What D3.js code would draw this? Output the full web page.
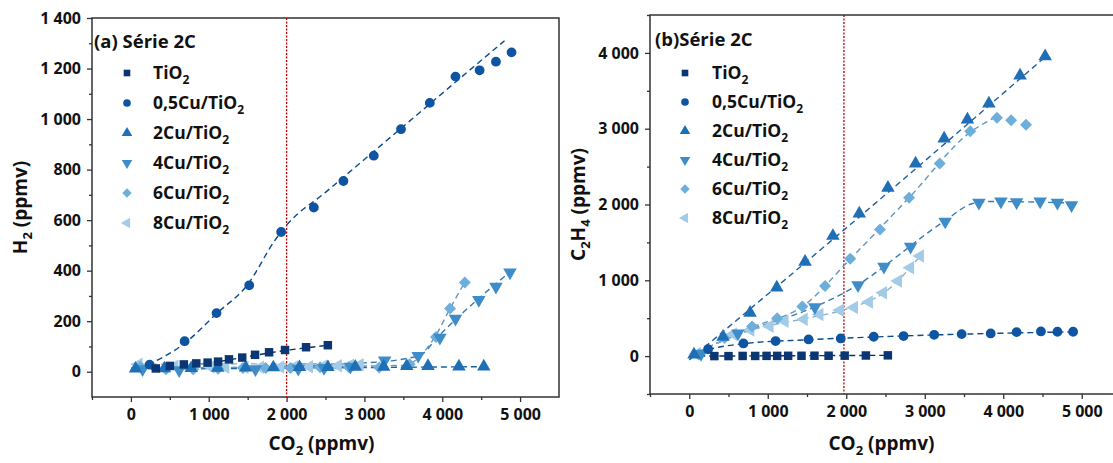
<!DOCTYPE html>
<html>
<meta charset="utf-8">
<style>
body { margin: 0; background: #fff; }
text { font-family: "Open Sans", "Noto Sans", sans-serif; font-weight: bold; fill: #111; }
.frame { fill: none; stroke: #333; stroke-width: 1.5; }
.axis path { display: none; }
.axis line { stroke: #333; stroke-width: 1.3; }
.axis text { font-size: 16px; font-family: "Open Sans", sans-serif; font-weight: bold; fill: #111; }
.fit { fill: none; stroke-width: 1.4; stroke-dasharray: 6 4; }
.ref { stroke: #c00000; stroke-width: 1.3; stroke-dasharray: 2 1.5; }
</style>
<body>
<script src="https://cdn.jsdelivr.net/npm/d3@7"></script>
<script>
// series (same order in both panels)
var names  = ["TiO", "0,5Cu/TiO", "2Cu/TiO", "4Cu/TiO", "6Cu/TiO", "8Cu/TiO"];
var colors = ["#0b3672", "#0d55a2", "#1f6fb6", "#3f8dc8", "#6eaedb", "#a2cbe8"];

// CO2 (ppmv) for each series
var co2_TiO2 = [320, 500, 680, 840, 985, 1120, 1260, 1430, 1595, 1775, 1980, 2250, 2530];
var co2_05Cu = [240, 690, 1100, 1520, 1930, 2350, 2730, 3120, 3470, 3840, 4170, 4480, 4690, 4890];
var co2_2Cu  = [60, 430, 775, 1115, 1475, 1830, 2166, 2531, 2883, 3247, 3544, 3817, 4214, 4534];
var co2_4Cu  = [150, 620, 1600, 2150, 2480, 2820, 3260, 3690, 3970, 4170, 4470, 4690, 4870];
var co2_6Cu  = [120, 450, 800, 1120, 1440, 1730, 2050, 2430, 2800, 3190, 3580, 3920, 4100, 4290];
var co2_8Cu  = [100, 560, 780, 1025, 1215, 1460, 1660, 1920, 2100, 2290, 2470, 2660, 2815, 2940];

// (a) H2 (ppmv)
var h2_TiO2 = [13, 23, 29, 33, 36, 40, 49, 56, 67, 77, 86, 97, 105];
var h2_05Cu = [28, 121, 232, 342, 553, 650, 755, 855, 960, 1064, 1168, 1193, 1227, 1264];
var h2_2Cu  = [12, 13, 14, 15, 16, 17, 18, 18, 19, 19, 22, 22, 20, 20];
var h2_4Cu  = [10, 6, 10, 12, 15, 20, 45, 63, 135, 210, 284, 337, 393];
var h2_6Cu  = [20, 10, 10, 12, 15, 15, 15, 18, 18, 17, 30, 137, 250, 353];
var h2_8Cu  = [30, 22, 20, 19, 18, 18, 18, 19, 20, 20, 22, 24, 26, 28];

// (b) C2H4 (ppmv)
var c2h4_TiO2 = [0, 0, 2, 2, 3, 3, 4, 4, 5, 5, 6, 8, 10];
var c2h4_05Cu = [90, 167, 198, 220, 233, 255, 264, 281, 290, 299, 316, 325, 321, 321];
var c2h4_2Cu  = [20, 255, 571, 904, 1245, 1585, 1881, 2220, 2541, 2870, 3121, 3332, 3701, 3956];
var c2h4_4Cu  = [30, 300, 645, 935, 1180, 1445, 1775, 2025, 2040, 2030, 2040, 2025, 1990];
var c2h4_6Cu  = [20, 240, 390, 500, 655, 925, 1285, 1670, 2088, 2541, 2967, 3143, 3112, 3051];
var c2h4_8Cu  = [30, 290, 345, 395, 460, 485, 550, 605, 640, 715, 835, 990, 1165, 1320];

// dashed trend lines
var h2Fit_TiO2 = [[0, 8], [1000, 35], [2000, 85], [2550, 105]];
var h2Fit_05Cu = [[100, 12], [700, 115], [1100, 230], [1500, 345], [1850, 520], [2000, 580], [2500, 710], [3500, 971], [4300, 1180], [4800, 1310]];
var h2Fit_2Cu  = [[0, 10], [4500, 20]];
var h2Fit_4Cu  = [[0, 10], [3000, 35], [3700, 63], [3950, 140], [4200, 215], [4870, 395]];
var h2Fit_6Cu  = [[0, 15], [3500, 25], [3900, 135], [4100, 250], [4290, 355]];
var h2Fit_8Cu  = [[0, 30], [3000, 32]];

var c2h4Fit_TiO2 = [[0, 0], [2550, 10]];
var c2h4Fit_05Cu = [[0, 0], [300, 100], [700, 165], [1500, 215], [2500, 258], [3500, 290], [4900, 320]];
var c2h4Fit_2Cu  = [[0, -50], [2000, 1690], [4550, 3960]];
var c2h4Fit_4Cu  = [[0, 0], [600, 280], [1600, 650], [2000, 850], [3250, 1780], [3600, 2010], [3800, 2040], [4870, 2020]];
var c2h4Fit_6Cu  = [[0, 0], [800, 380], [1450, 660], [2050, 1280], [2800, 2090], [3600, 2970], [3900, 3150]];
var c2h4Fit_8Cu  = [[0, 0], [800, 345], [1500, 500], [2000, 620], [2500, 850], [2950, 1330]];

var co2All = [co2_TiO2, co2_05Cu, co2_2Cu, co2_4Cu, co2_6Cu, co2_8Cu];

var fmt = d3.formatLocale({decimal: ",", thousands: " ", grouping: [3], currency: ["", ""]}).format(",");

var svg = d3.select("body").append("svg")
	.attr("width", 1113)
	.attr("height", 463);
svg.append("rect").attr("width", 1113).attr("height", 463).attr("fill", "#fff");

// marker shapes
var shapes = [
	{type: d3.symbolSquare, rot: 0, k: 1},
	{type: d3.symbolCircle, rot: 0, k: 1.05},
	{type: d3.symbolTriangle, rot: 0, k: 1.1},
	{type: d3.symbolTriangle, rot: 180, k: 1.1},
	{type: d3.symbolSquare, rot: 45, k: 1},
	{type: d3.symbolTriangle, rot: -90, k: 1.1}
];

function panel(p) {
	var x = d3.scaleLinear().domain([-500, 5500]).range(p.xr);
	var y = d3.scaleLinear().domain(p.yd).range(p.yr);
	var g = svg.append("g");

	// frame
	g.append("rect").attr("class", "frame")
		.attr("x", p.xr[0]).attr("y", p.yr[1])
		.attr("width", p.xr[1] - p.xr[0]).attr("height", p.yr[0] - p.yr[1]);

	// axes: major + minor ticks
	g.append("g").attr("class", "axis")
		.attr("transform", "translate(0," + p.yr[0] + ")")
		.call(d3.axisBottom(x).tickValues([0, 1000, 2000, 3000, 4000, 5000]).tickSize(5).tickPadding(7).tickFormat(fmt));
	g.append("g").attr("class", "axis")
		.attr("transform", "translate(0," + p.yr[0] + ")")
		.call(d3.axisBottom(x).tickValues([-500, 500, 1500, 2500, 3500, 4500]).tickSize(3).tickFormat(""));
	g.append("g").attr("class", "axis")
		.attr("transform", "translate(" + p.xr[0] + ",0)")
		.call(d3.axisLeft(y).tickValues(p.yMajor).tickSize(5).tickPadding(6).tickFormat(fmt));
	g.append("g").attr("class", "axis")
		.attr("transform", "translate(" + p.xr[0] + ",0)")
		.call(d3.axisLeft(y).tickValues(p.yMinor).tickSize(3).tickFormat(""));

	// red reference line
	g.append("line").attr("class", "ref")
		.attr("x1", x(p.refX)).attr("x2", x(p.refX))
		.attr("y1", p.yr[1]).attr("y2", p.yr[0]);

	var line = d3.line()
		.x(function(d) { return x(d[0]); })
		.y(function(d) { return y(d[1]); })
		.curve(d3.curveMonotoneX);

	// fits
	p.fits.forEach(function(f, i) {
		g.append("path").attr("class", "fit")
			.attr("stroke", d3.color(colors[i]).darker(0.4))
			.attr("d", line(f));
	});

	// points, lightest drawn first
	for (var i = 5; i >= 0; i--) {
		var sym = d3.symbol().type(shapes[i].type).size(72 * shapes[i].k);
		g.selectAll(null)
			.data(d3.zip(co2All[i], p.vals[i]))
			.enter().append("path")
			.attr("d", sym)
			.attr("fill", colors[i])
			.attr("transform", function(d) {
				return "translate(" + x(d[0]) + "," + y(d[1]) + ") rotate(" + shapes[i].rot + ")";
			});
	}

	// title + legend
	g.append("text")
		.attr("x", p.tx).attr("y", p.ty)
		.attr("font-size", 18.5)
		.text(p.title);
	names.forEach(function(n, i) {
		var ly = p.ly + i * p.ls;
		g.append("path")
			.attr("d", d3.symbol().type(shapes[i].type).size(44 * shapes[i].k))
			.attr("fill", colors[i])
			.attr("transform", "translate(" + p.lx + "," + ly + ") rotate(" + shapes[i].rot + ")");
		var t = g.append("text")
			.attr("x", p.lt).attr("y", ly + 6)
			.attr("font-size", 17.5);
		t.append("tspan").text(n);
		t.append("tspan").attr("dy", 5).attr("font-size", 12).text("2");
	});

	// axis titles
	var xt = g.append("text")
		.attr("x", (x(0) + x(5000)) / 2 - 4).attr("y", 450)
		.attr("text-anchor", "middle")
		.attr("font-size", 19);
	xt.append("tspan").text("CO");
	xt.append("tspan").attr("dy", 5).attr("font-size", 13).text("2");
	xt.append("tspan").attr("dy", -5).text(" (ppmv)");

	var yt = g.append("text")
		.attr("transform", "translate(" + p.ytx + "," + ((p.yr[0] + p.yr[1]) / 2) + ") rotate(-90)")
		.attr("text-anchor", "middle")
		.attr("font-size", 19);
	p.ytitle.forEach(function(part) {
		if (part.sub) {
			yt.append("tspan").attr("dy", 5).attr("font-size", 13).text(part.t);
		} else {
			yt.append("tspan").attr("dy", part.after ? -5 : 0).text(part.t);
		}
	});
}

panel({
	xr: [92, 559], yr: [397, 18], yd: [-100, 1400],
	yMajor: [0, 200, 400, 600, 800, 1000, 1200, 1400],
	yMinor: [100, 300, 500, 700, 900, 1100, 1300],
	refX: 2000,
	vals: [h2_TiO2, h2_05Cu, h2_2Cu, h2_4Cu, h2_6Cu, h2_8Cu],
	fits: [h2Fit_TiO2, h2Fit_05Cu, h2Fit_2Cu, h2Fit_4Cu, h2Fit_6Cu, h2Fit_8Cu],
	title: "(a) Série 2C", tx: 94, ty: 48,
	lx: 127, lt: 153, ly: 73, ls: 30,
	ytx: 27, ytitle: [{t: "H"}, {t: "2", sub: true}, {t: " (ppmv)", after: true}]
});

panel({
	xr: [650, 1121], yr: [394, 15], yd: [-500, 4500],
	yMajor: [0, 1000, 2000, 3000, 4000],
	yMinor: [-500, 500, 1500, 2500, 3500, 4500],
	refX: 1970,
	vals: [c2h4_TiO2, c2h4_05Cu, c2h4_2Cu, c2h4_4Cu, c2h4_6Cu, c2h4_8Cu],
	fits: [c2h4Fit_TiO2, c2h4Fit_05Cu, c2h4Fit_2Cu, c2h4Fit_4Cu, c2h4Fit_6Cu, c2h4Fit_8Cu],
	title: "(b)Série 2C", tx: 655, ty: 46,
	lx: 685, lt: 712, ly: 73, ls: 29,
	ytx: 585, ytitle: [{t: "C"}, {t: "2", sub: true}, {t: "H", after: true}, {t: "4", sub: true}, {t: " (ppmv)", after: true}]
});
</script>
</body>
</html>
